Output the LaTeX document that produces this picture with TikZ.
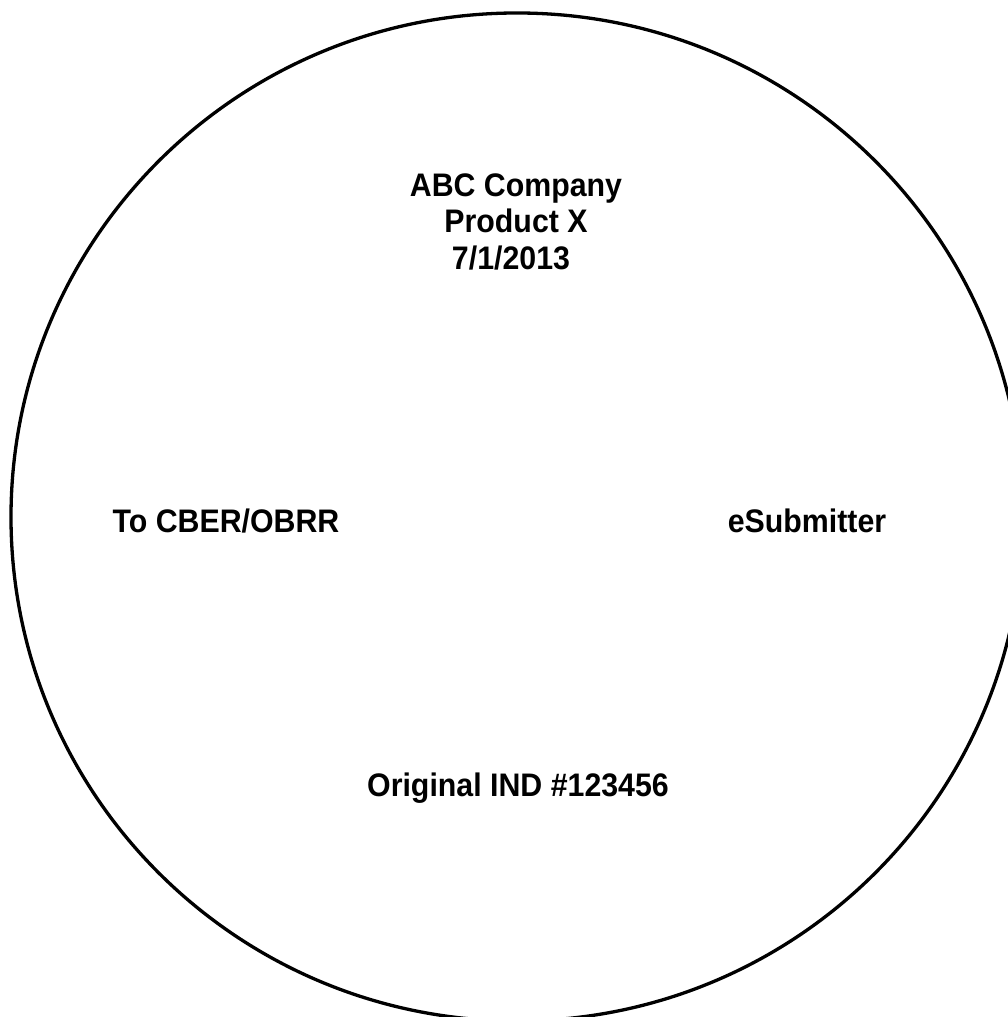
\documentclass[tikz,border=0pt]{standalone}
\usepackage{fontspec}
\setmainfont{Liberation Sans}[FakeStretch=0.93]
\begin{document}
\begin{tikzpicture}[x=1pt,y=1pt,
  lbl/.style={font=\bfseries\fontsize{32.6}{36.5}\selectfont, inner sep=0pt, anchor=base}]
\useasboundingbox (0,0) rectangle (1008,1017);
\clip (0,0) rectangle (1008,1017);
\draw[line width=3.3pt] (517,500) ellipse [x radius=506, y radius=504];
\node[lbl] (l1) at (516,820) {ABC Company};
\node[lbl] (l2) at (516,784) {Product X};
\node[lbl] (l3) at (511,747) {7/1/2013};
\node[lbl] (cber) at (226,484) {To CBER/OBRR};
\node[lbl] (esub) at (807,484) {eSubmitter};
\node[lbl] (ind) at (518,220) {Original IND \#123456};
\end{tikzpicture}
\end{document}
